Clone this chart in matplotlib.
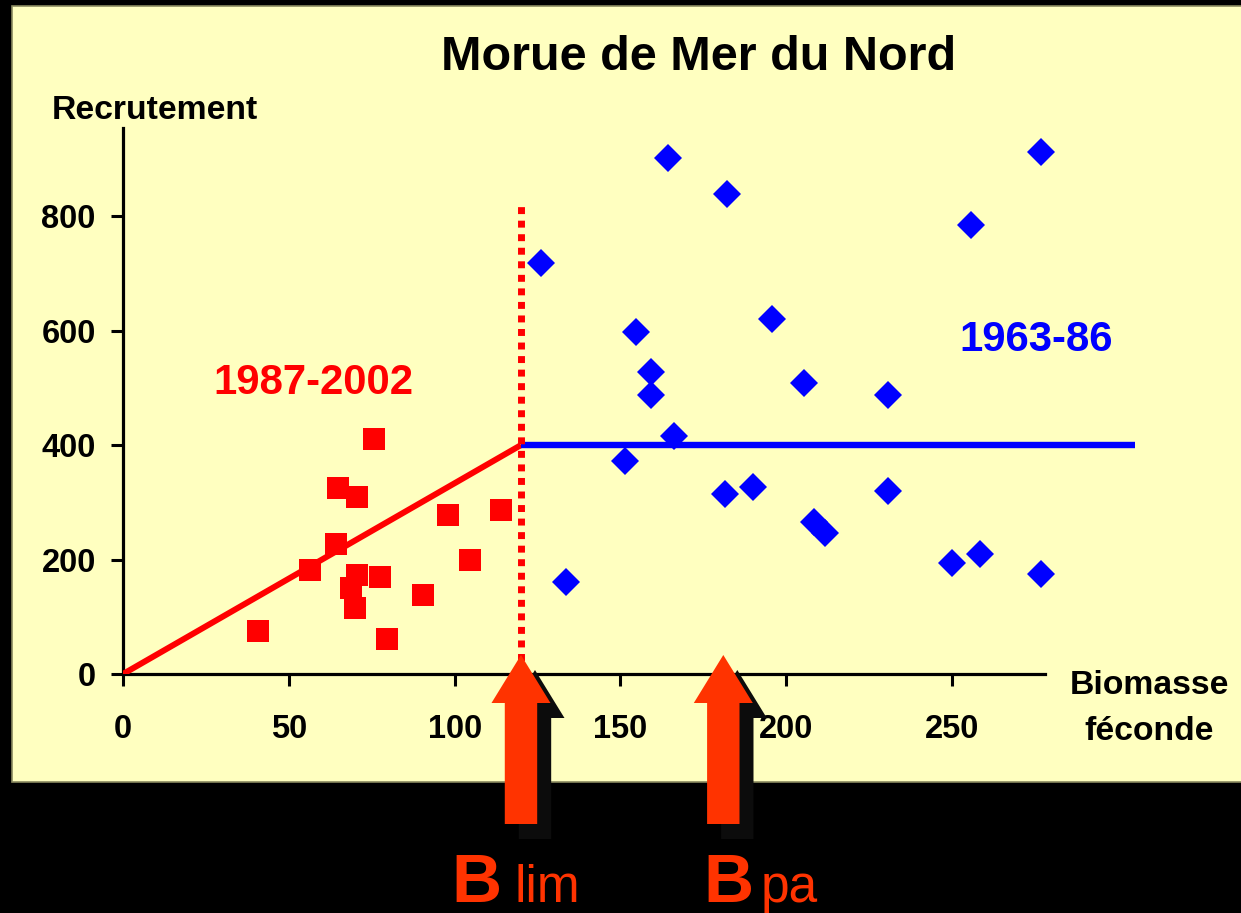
import matplotlib
matplotlib.use("Agg")
import matplotlib.pyplot as plt
import matplotlib.transforms as mtransforms
from matplotlib.patches import Polygon, Rectangle

# 1987-2002 (carrés rouges)
red_x = [40.6, 56.4, 64.3, 64.9, 70.5, 75.6, 70.6, 68.6, 69.9, 77.6, 79.5, 90.4, 98.1, 104.5, 114.0]
red_y = [76, 181, 227, 325, 309, 410, 173, 150, 115, 169, 61, 138, 278, 200, 286]

# 1963-86 (losanges bleus)
blue_x = [125.9, 164.4, 182.2, 154.7, 159.2, 159.2, 195.7, 205.2, 230.8, 166.2, 276.9,
          255.8, 230.8, 250.0, 258.3, 276.9, 151.5, 181.5, 189.9, 208.4, 211.7, 133.6]
blue_y = [718, 901, 839, 598, 528, 488, 621, 509, 487, 416, 912,
          784, 319, 194, 210, 175, 372, 315, 326, 266, 247, 160]

# modèle "hockey stick"
blim = 120
bpa = 181
r_plateau = 400
x_end = 305

xticks = [0, 50, 100, 150, 200, 250]
yticks = [0, 200, 400, 600, 800]

W, H = 1241, 913
def fx(px):
    return px / W
def fy(py):
    return 1 - py / H

plt.rcParams['font.family'] = ['Liberation Sans', 'DejaVu Sans']
fig = plt.figure(figsize=(W / 100, H / 100), dpi=100)
fig.patch.set_facecolor('black')

# fond jaune
fig.patches.append(Rectangle((fx(12), fy(782)), 1.0, fy(6) - fy(782),
                             transform=fig.transFigure, facecolor='#FFFFC0',
                             edgecolor='#8A8A60', linewidth=1.2, zorder=-10))

ax = fig.add_axes([fx(123), fy(674), fx(1045) - fx(123), fy(128) - fy(674)])
ax.set_facecolor('none')
ax.set_xlim(0, 278)
ax.set_ylim(0, 954)
for s in ['top', 'right']:
    ax.spines[s].set_visible(False)
for s in ['left', 'bottom']:
    ax.spines[s].set_linewidth(2.3)
ax.set_xticks(xticks)
ax.set_yticks(yticks)
ax.tick_params(axis='both', direction='out', length=8.6, width=2.2,
               labelsize=23.5)
ax.tick_params(axis='y', pad=11)
ax.tick_params(axis='x', pad=20)
for lab in ax.get_xticklabels() + ax.get_yticklabels():
    lab.set_fontweight('bold')

# segments
ax.plot([0, blim], [0, r_plateau], color='red', lw=4.3, solid_capstyle='butt', zorder=3)
ax.plot([blim, x_end], [r_plateau, r_plateau], color='blue', lw=4.6,
        solid_capstyle='butt', clip_on=False, zorder=3)
ax.plot([blim, blim], [0, 818], color='red', lw=5, linestyle=(0, (1, 0.95)),
        dash_capstyle='butt', zorder=3)

ax.plot(red_x, red_y, 's', color='red', markersize=16, markeredgewidth=0,
        clip_on=False, zorder=4)
ax.plot(blue_x, blue_y, 'D', color='blue', markersize=14.5, markeredgewidth=0,
        clip_on=False, zorder=4)

# textes
fig.text(fx(699), fy(70), 'Morue de Mer du Nord', ha='center', va='baseline',
         fontsize=35, fontweight='bold')
fig.text(fx(52), fy(119), 'Recrutement', ha='left', va='baseline',
         fontsize=24.3, fontweight='bold')
fig.text(fx(1149), fy(694), 'Biomasse', ha='center', va='baseline',
         fontsize=24.3, fontweight='bold')
fig.text(fx(1149), fy(740), 'féconde', ha='center', va='baseline',
         fontsize=24.3, fontweight='bold')
fig.text(fx(213), fy(394), '1987-2002', ha='left', va='baseline',
         fontsize=30.2, fontweight='bold', color='red')
fig.text(fx(959), fy(351), '1963-86', ha='left', va='baseline',
         fontsize=30.2, fontweight='bold', color='blue')

# flèches B lim / B pa
trans = mtransforms.blended_transform_factory(ax.transData, fig.transFigure)
unit = (1045 - 123) / 278.0  # px par unité

def arrow(xc, dx_px, dy_px, color, z):
    hw = 29.5 / unit
    sw = 16.2 / unit
    ox = dx_px / unit
    tip, base, bot = fy(655 + dy_px), fy(703 + dy_px), fy(824 + dy_px)
    x = xc + ox
    pts = [(x, tip), (x + hw, base), (x + sw, base), (x + sw, bot),
           (x - sw, bot), (x - sw, base), (x - hw, base)]
    ax.add_patch(Polygon(pts, closed=True, transform=trans, facecolor=color,
                         edgecolor='none', clip_on=False, zorder=z))

for xc in [blim, bpa]:
    arrow(xc, 14, 15, '#0C0C0C', 9)
    arrow(xc, 0, 0, '#FF3300', 10)

orange = '#FF3300'
fig.text(fx(451), fy(902), 'B', ha='left', va='baseline', fontsize=50,
         fontweight='bold', color=orange)
fig.text(fx(514), fy(902), 'lim', ha='left', va='baseline', fontsize=37, color=orange)
fig.text(fx(703), fy(902), 'B', ha='left', va='baseline', fontsize=50,
         fontweight='bold', color=orange)
fig.text(fx(761), fy(902), 'pa', ha='left', va='baseline', fontsize=37, color=orange)

fig.savefig('out.png', dpi=100, facecolor=fig.get_facecolor())
